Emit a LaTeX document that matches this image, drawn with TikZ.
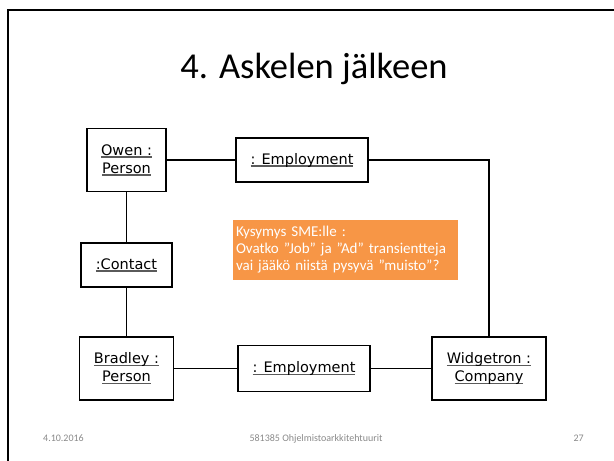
\documentclass[tikz,border=0pt]{standalone}
\usepackage{fontspec}
\setmainfont{Carlito}
\newfontfamily\umlfont{DejaVu Sans}
\definecolor{ulgray}{RGB}{90,90,90}
\definecolor{noteorange}{RGB}{247,150,70}
\definecolor{footgray}{RGB}{137,137,137}
\newcommand\myul[1]{\setbox0\hbox{#1}\rlap{\color{ulgray}\rule[-2.6pt]{\wd0}{1.3pt}}\box0}
\begin{document}
\begin{tikzpicture}[x=1pt,y=-1pt,
  obj/.style={draw=black,line width=1.8pt,fill=white,rectangle,inner sep=0pt,align=center,
     font=\umlfont\fontsize{14.5}{18}\selectfont},
  link/.style={line width=1.6pt,black},
  foot/.style={text=footgray,font=\fontsize{10}{12}\selectfont,inner sep=0pt}]
\useasboundingbox (0,0) rectangle (614,461);
\draw[line width=2pt] (8,461) -- (8,10) -- (614,10);
\node[font=\fontsize{36.5}{42}\selectfont,inner sep=0pt,anchor=base] (title) at (314,78) {4. Askelen jälkeen};

\node[obj,minimum width=79pt,minimum height=63pt] (owen) at (126.5,160) {\myul{Owen :}\\\myul{Person}};
\node[obj,minimum width=132pt,minimum height=44pt] (emp1) at (302,160) {\myul{: Employment}};
\node[obj,minimum width=91pt,minimum height=44pt] (contact) at (126.5,265) {\myul{:Contact}};
\node[obj,minimum width=94pt,minimum height=63pt] (bradley) at (126.5,368.5) {\myul{Bradley :}\\\myul{Person}};
\node[obj,minimum width=132pt,minimum height=46pt] (emp2) at (304,368.5) {\myul{: Employment}};
\node[obj,minimum width=114pt,minimum height=63pt] (widget) at (489,368.5) {\myul{Widgetron :}\\\myul{Company}};

\draw[link] (owen.east) -- (emp1.west);
\draw[link] (emp1.east) -| (widget.north);
\draw[link] (owen.south) -- (contact.north);
\draw[link] (contact.south) -- (bradley.north);
\draw[link] (bradley.east) -- (emp2.west);
\draw[link] (emp2.east) -- (widget.west);

\node[fill=noteorange,text=white,minimum width=225pt,minimum height=60pt,inner sep=3pt,align=left,
  text width=219pt,font=\fontsize{15}{17}\selectfont] (note) at (345.5,250)
  {Kysymys SME:lle :\\Ovatko "Job" ja "Ad" transientteja\\vai jääkö niistä pysyvä "muisto"?};

\node[foot,anchor=base west] (date) at (43,441) {4.10.2016};
\node[foot,anchor=base] (course) at (316,441) {581385 Ohjelmistoarkkitehtuurit};
\node[foot,anchor=base east] (page) at (584,441) {27};
\end{tikzpicture}
\end{document}
